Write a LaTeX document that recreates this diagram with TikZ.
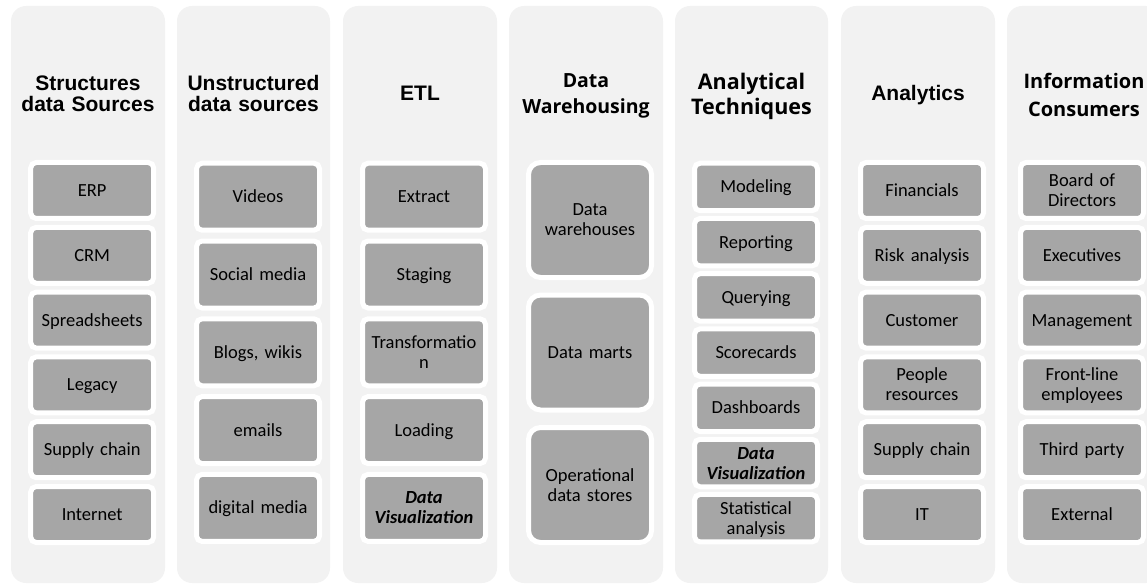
\documentclass[tikz,border=0pt]{standalone}
\usepackage{fontspec}
\setmainfont{Carlito}
\newfontfamily\arialfont{Liberation Sans}
\newfontfamily\headfont{Open Sans}
\definecolor{colbg}{HTML}{F2F2F2}
\definecolor{boxgray}{HTML}{A6A6A6}
\newcommand\topstrut[1]{\rule{0pt}{#1}}
\newcommand\botstrut[1]{\rule[-#1]{0pt}{#1}}
\begin{document}
\begin{tikzpicture}[x=1pt,y=-1pt,
 col/.style={fill=colbg, rounded corners=15pt},
 item/.style={fill=boxgray, draw=white, line width=5pt, rounded corners=5.5pt, inner sep=0pt, text width=123pt, align=center, font=\fontsize{18.5}{20}\selectfont, execute at begin node=\topstrut{17pt}, execute at end node=\botstrut{5pt}},
 headA/.style={text width=150pt, align=center, font=\arialfont\bfseries\fontsize{21}{21.7}\selectfont, execute at begin node=\topstrut{20pt}, execute at end node=\botstrut{5pt}},
 headC/.style={text width=150pt, align=center, font=\headfont\bfseries\fontsize{20}{27.4}\selectfont, execute at begin node=\topstrut{20.3pt}, execute at end node=\botstrut{6pt}}]
 \useasboundingbox (0,0) rectangle (1147,585);
 \clip (0,0) rectangle (1147,585);
 % columns
 \fill[col] (11,6) rectangle (165,583);
 \fill[col] (177,6) rectangle (330,583);
 \fill[col] (343,6) rectangle (497,583);
 \fill[col] (509,6) rectangle (663,583);
 \fill[col] (675,6) rectangle (828,583);
 \fill[col] (841,6) rectangle (995,583);
 \fill[col] (1007,6) rectangle (1161,583);
 % headings
 \node[headA] (hsrc) at (88,93.5) {Structures\\data Sources};
 \node[headA] (hunstr) at (253.5,93.5) {Unstructured\\data sources};
 \node[headA] (hetl) at (420,93.5) {ETL};
 \node[headC, font=\headfont\bfseries\fontsize{19.5}{26.3}\selectfont, execute at begin node=\topstrut{19.9pt}] (hdw) at (586,93.7) {Data\\Warehousing};
 \node[headC, font=\headfont\bfseries\fontsize{21.5}{25}\selectfont, execute at begin node=\topstrut{21.4pt}] (htech) at (751.5,94.2) {Analytical\\Techniques};
 \node[headA] (hanalytics) at (918,93.5) {Analytics};
 \node[headC] (hconsumers) at (1084,95.5) {Information\\Consumers};
 % structured sources
 \node[item, minimum height=56pt] (erp) at (92.2,190.5) {ERP};
 \node[item, minimum height=56pt] (crm) at (92.2,255.3) {CRM};
 \node[item, minimum height=56pt] (sheets) at (92.2,320.1) {Spreadsheets};
 \node[item, minimum height=56pt] (legacy) at (92.2,384.9) {Legacy};
 \node[item, minimum height=56pt] (supply) at (92.2,449.7) {Supply chain};
 \node[item, minimum height=56pt] (internet) at (92.2,514.5) {Internet};
 % unstructured sources
 \node[item, minimum height=67pt] (videos) at (258,196.7) {Videos};
 \node[item, minimum height=67pt] (social) at (258,274.5) {Social media};
 \node[item, minimum height=67pt] (blogs) at (258,352.3) {Blogs, wikis};
 \node[item, minimum height=67pt] (emails) at (258,430.1) {emails};
 \node[item, minimum height=67pt] (digital) at (258,507.9) {digital media};
 % ETL
 \node[item, minimum height=67pt] (extract) at (424,196.7) {Extract};
 \node[item, minimum height=67pt] (staging) at (424,274.5) {Staging};
 \node[item, minimum height=67pt] (transform) at (424,352.3) {Transformatio\\n};
 \node[item, minimum height=67pt] (loading) at (424,430.1) {Loading};
 \node[item, minimum height=67pt] (vizetl) at (424,507.9) {\bfseries\itshape Data\\Visualization};
 % data warehousing
 \node[item, minimum height=115pt, rounded corners=12pt] (warehouses) at (590,220) {Data\\warehouses};
 \node[item, minimum height=115pt, rounded corners=12pt] (marts) at (590,352.5) {Data marts};
 \node[item, minimum height=115pt, rounded corners=12pt] (ods) at (590,485) {Operational\\data stores};
 % analytical techniques
 \node[item, minimum height=47.5pt] (modeling) at (756,187) {Modeling};
 \node[item, minimum height=47.5pt] (reporting) at (756,242.2) {Reporting};
 \node[item, minimum height=47.5pt] (querying) at (756,297.4) {Querying};
 \node[item, minimum height=47.5pt] (scorecards) at (756,352.6) {Scorecards};
 \node[item, minimum height=47.5pt] (dashboards) at (756,407.8) {Dashboards};
 \node[item, minimum height=47.5pt] (vizat) at (756,463) {\bfseries\itshape Data\\Visualization};
 \node[item, minimum height=47.5pt] (statistical) at (756,518.2) {Statistical\\analysis};
 % analytics
 \node[item, minimum height=56pt] (financials) at (922,190.5) {Financials};
 \node[item, minimum height=56pt] (risk) at (922,255.3) {Risk analysis};
 \node[item, minimum height=56pt] (customer) at (922,320.1) {Customer};
 \node[item, minimum height=56pt] (people) at (922,384.9) {People\\resources};
 \node[item, minimum height=56pt] (supplyan) at (922,449.7) {Supply chain};
 \node[item, minimum height=56pt] (it) at (922,514.5) {IT};
 % information consumers
 \node[item, minimum height=56pt] (board) at (1082,190.5) {Board of\\Directors};
 \node[item, minimum height=56pt] (executives) at (1082,255.3) {Executives};
 \node[item, minimum height=56pt] (management) at (1082,320.1) {Management};
 \node[item, minimum height=56pt] (frontline) at (1082,384.9) {Front-line\\employees};
 \node[item, minimum height=56pt] (thirdparty) at (1082,449.7) {Third party};
 \node[item, minimum height=56pt] (external) at (1082,514.5) {External};
\end{tikzpicture}
\end{document}
